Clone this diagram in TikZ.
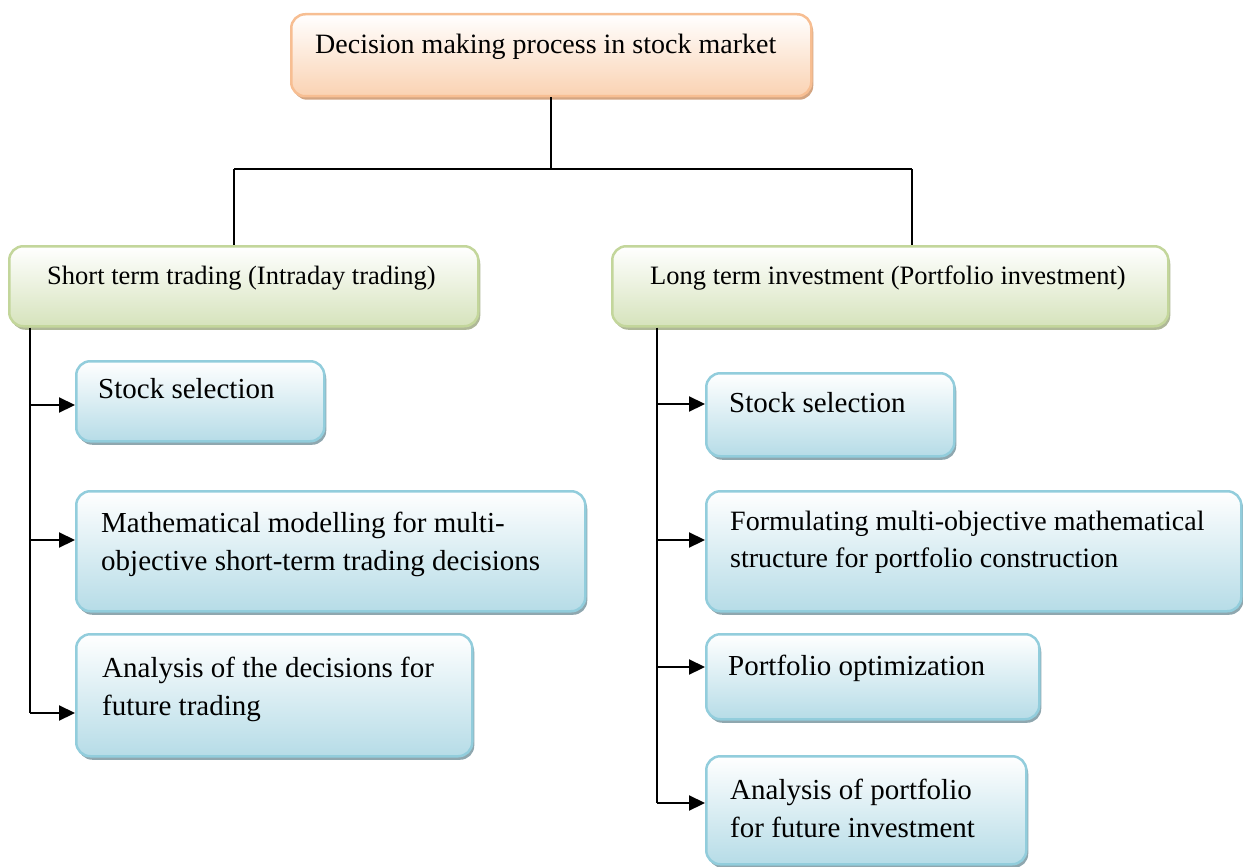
\documentclass[tikz,border=0pt]{standalone}
\usepackage{fontspec}
\setmainfont{Liberation Serif}
\newfontfamily\tnr{Liberation Serif}
\usetikzlibrary{shadows,arrows.meta}
\definecolor{peachB}{HTML}{F7BE92}
\definecolor{peachF}{HTML}{FAD2B2}
\definecolor{peachS}{HTML}{D3A582}
\definecolor{greenB}{HTML}{C3D69B}
\definecolor{greenF}{HTML}{D6E3BC}
\definecolor{greenS}{HTML}{AFB898}
\definecolor{blueB}{HTML}{92CDDC}
\definecolor{blueF}{HTML}{B6DCE7}
\definecolor{blueS}{HTML}{8FA7AF}
\begin{document}
\begin{tikzpicture}[x=1pt,y=-1pt,
  boxbase/.style={rounded corners=14pt, line width=2.5pt, inner sep=0pt, anchor=north west},
  topbox/.style={boxbase, draw=peachB, top color=white, bottom color=peachF,
    drop shadow={shadow xshift=2pt,shadow yshift=-3.5pt,fill=peachS,opacity=1}},
  grbox/.style={boxbase, draw=greenB, top color=white, bottom color=greenF,
    drop shadow={shadow xshift=2pt,shadow yshift=-3.5pt,fill=greenS,opacity=1}},
  blbox/.style={boxbase, draw=blueB, top color=white, bottom color=blueF,
    drop shadow={shadow xshift=2pt,shadow yshift=-3.5pt,fill=blueS,opacity=1}},
  ttop/.style={anchor=base west, inner sep=0pt, font=\tnr\fontsize{28}{38}\selectfont},
  tgr/.style={anchor=base west, inner sep=0pt, font=\tnr\fontsize{26.5}{38}\selectfont},
  tbl/.style={anchor=base west, inner sep=0pt, align=left, font=\tnr\fontsize{29}{38}\selectfont},
  conn/.style={line width=2.2pt, black},
  arr/.style={line width=2.2pt, black, -{Triangle[length=16pt,width=15pt]}}
]
\useasboundingbox (0,0) rectangle (1243,867);

% boxes
\node[topbox, minimum width=520pt, minimum height=82pt] (top) at (290,13) {};
\node[grbox, minimum width=469pt, minimum height=80pt] (G1) at (8,245) {};
\node[grbox, minimum width=556pt, minimum height=80pt] (G2) at (611,245) {};

\node[blbox, minimum width=248pt, minimum height=80pt] (L1) at (75,360) {};
\node[blbox, minimum width=509pt, minimum height=120pt] (L2) at (75,490) {};
\node[blbox, minimum width=396pt, minimum height=122pt] (L3) at (75,633) {};

\node[blbox, minimum width=248pt, minimum height=83pt] (R1) at (705,372) {};
\node[blbox, minimum width=535pt, minimum height=120pt] (R2) at (705,490) {};
\node[blbox, minimum width=333pt, minimum height=85pt] (R3) at (705,633) {};
\node[blbox, minimum width=320pt, minimum height=108pt] (R4) at (705,755) {};

% texts (base anchor = baseline of the last line)
\node[ttop] (tTop) at (315,54) {Decision making process in stock market};
\node[tgr] (tG1) at (47,284) {Short term trading (Intraday trading)};
\node[tgr] (tG2) at (650,284) {Long term investment (Portfolio investment)};
\node[tbl] (tL1) at (98,398) {Stock selection};
\node[tbl] (tL2) at (101,570) {Mathematical modelling for multi-\\objective short-term trading decisions};
\node[tbl] (tL3) at (102,715) {Analysis of the decisions for\\future trading};
\node[tbl] (tR1) at (729,412) {Stock selection};
\node[tbl, font=\tnr\fontsize{28}{37}\selectfont] (tR2) at (730,567) {Formulating multi-objective mathematical\\structure for portfolio construction};
\node[tbl] (tR3) at (728,675) {Portfolio optimization};
\node[tbl] (tR4) at (730,837) {Analysis of portfolio\\for future investment};

% top connectors
\coordinate (busL) at (234,169);
\coordinate (busR) at (912,169);
\draw[conn] (top.south) -- (top.south |- busL);
\draw[conn] (busL) -- (busR);
\draw[conn] (busL) -- (busL |- G1.north);
\draw[conn] (busR) -- (busR |- G2.north);

% left branch
\coordinate (aL1) at (30,405);
\coordinate (aL2) at (30,540);
\coordinate (aL3) at (30,713);
\draw[conn] (G1.south -| aL1) -- (aL3);
\draw[arr] (aL1) -- (aL1 -| L1.west);
\draw[arr] (aL2) -- (aL2 -| L2.west);
\draw[arr] (aL3) -- (aL3 -| L3.west);

% right branch
\coordinate (aR1) at (657,404);
\coordinate (aR2) at (657,540);
\coordinate (aR3) at (657,667);
\coordinate (aR4) at (657,803);
\draw[conn] (G2.south -| aR1) -- (aR4);
\draw[arr] (aR1) -- (aR1 -| R1.west);
\draw[arr] (aR2) -- (aR2 -| R2.west);
\draw[arr] (aR3) -- (aR3 -| R3.west);
\draw[arr] (aR4) -- (aR4 -| R4.west);
\end{tikzpicture}
\end{document}
